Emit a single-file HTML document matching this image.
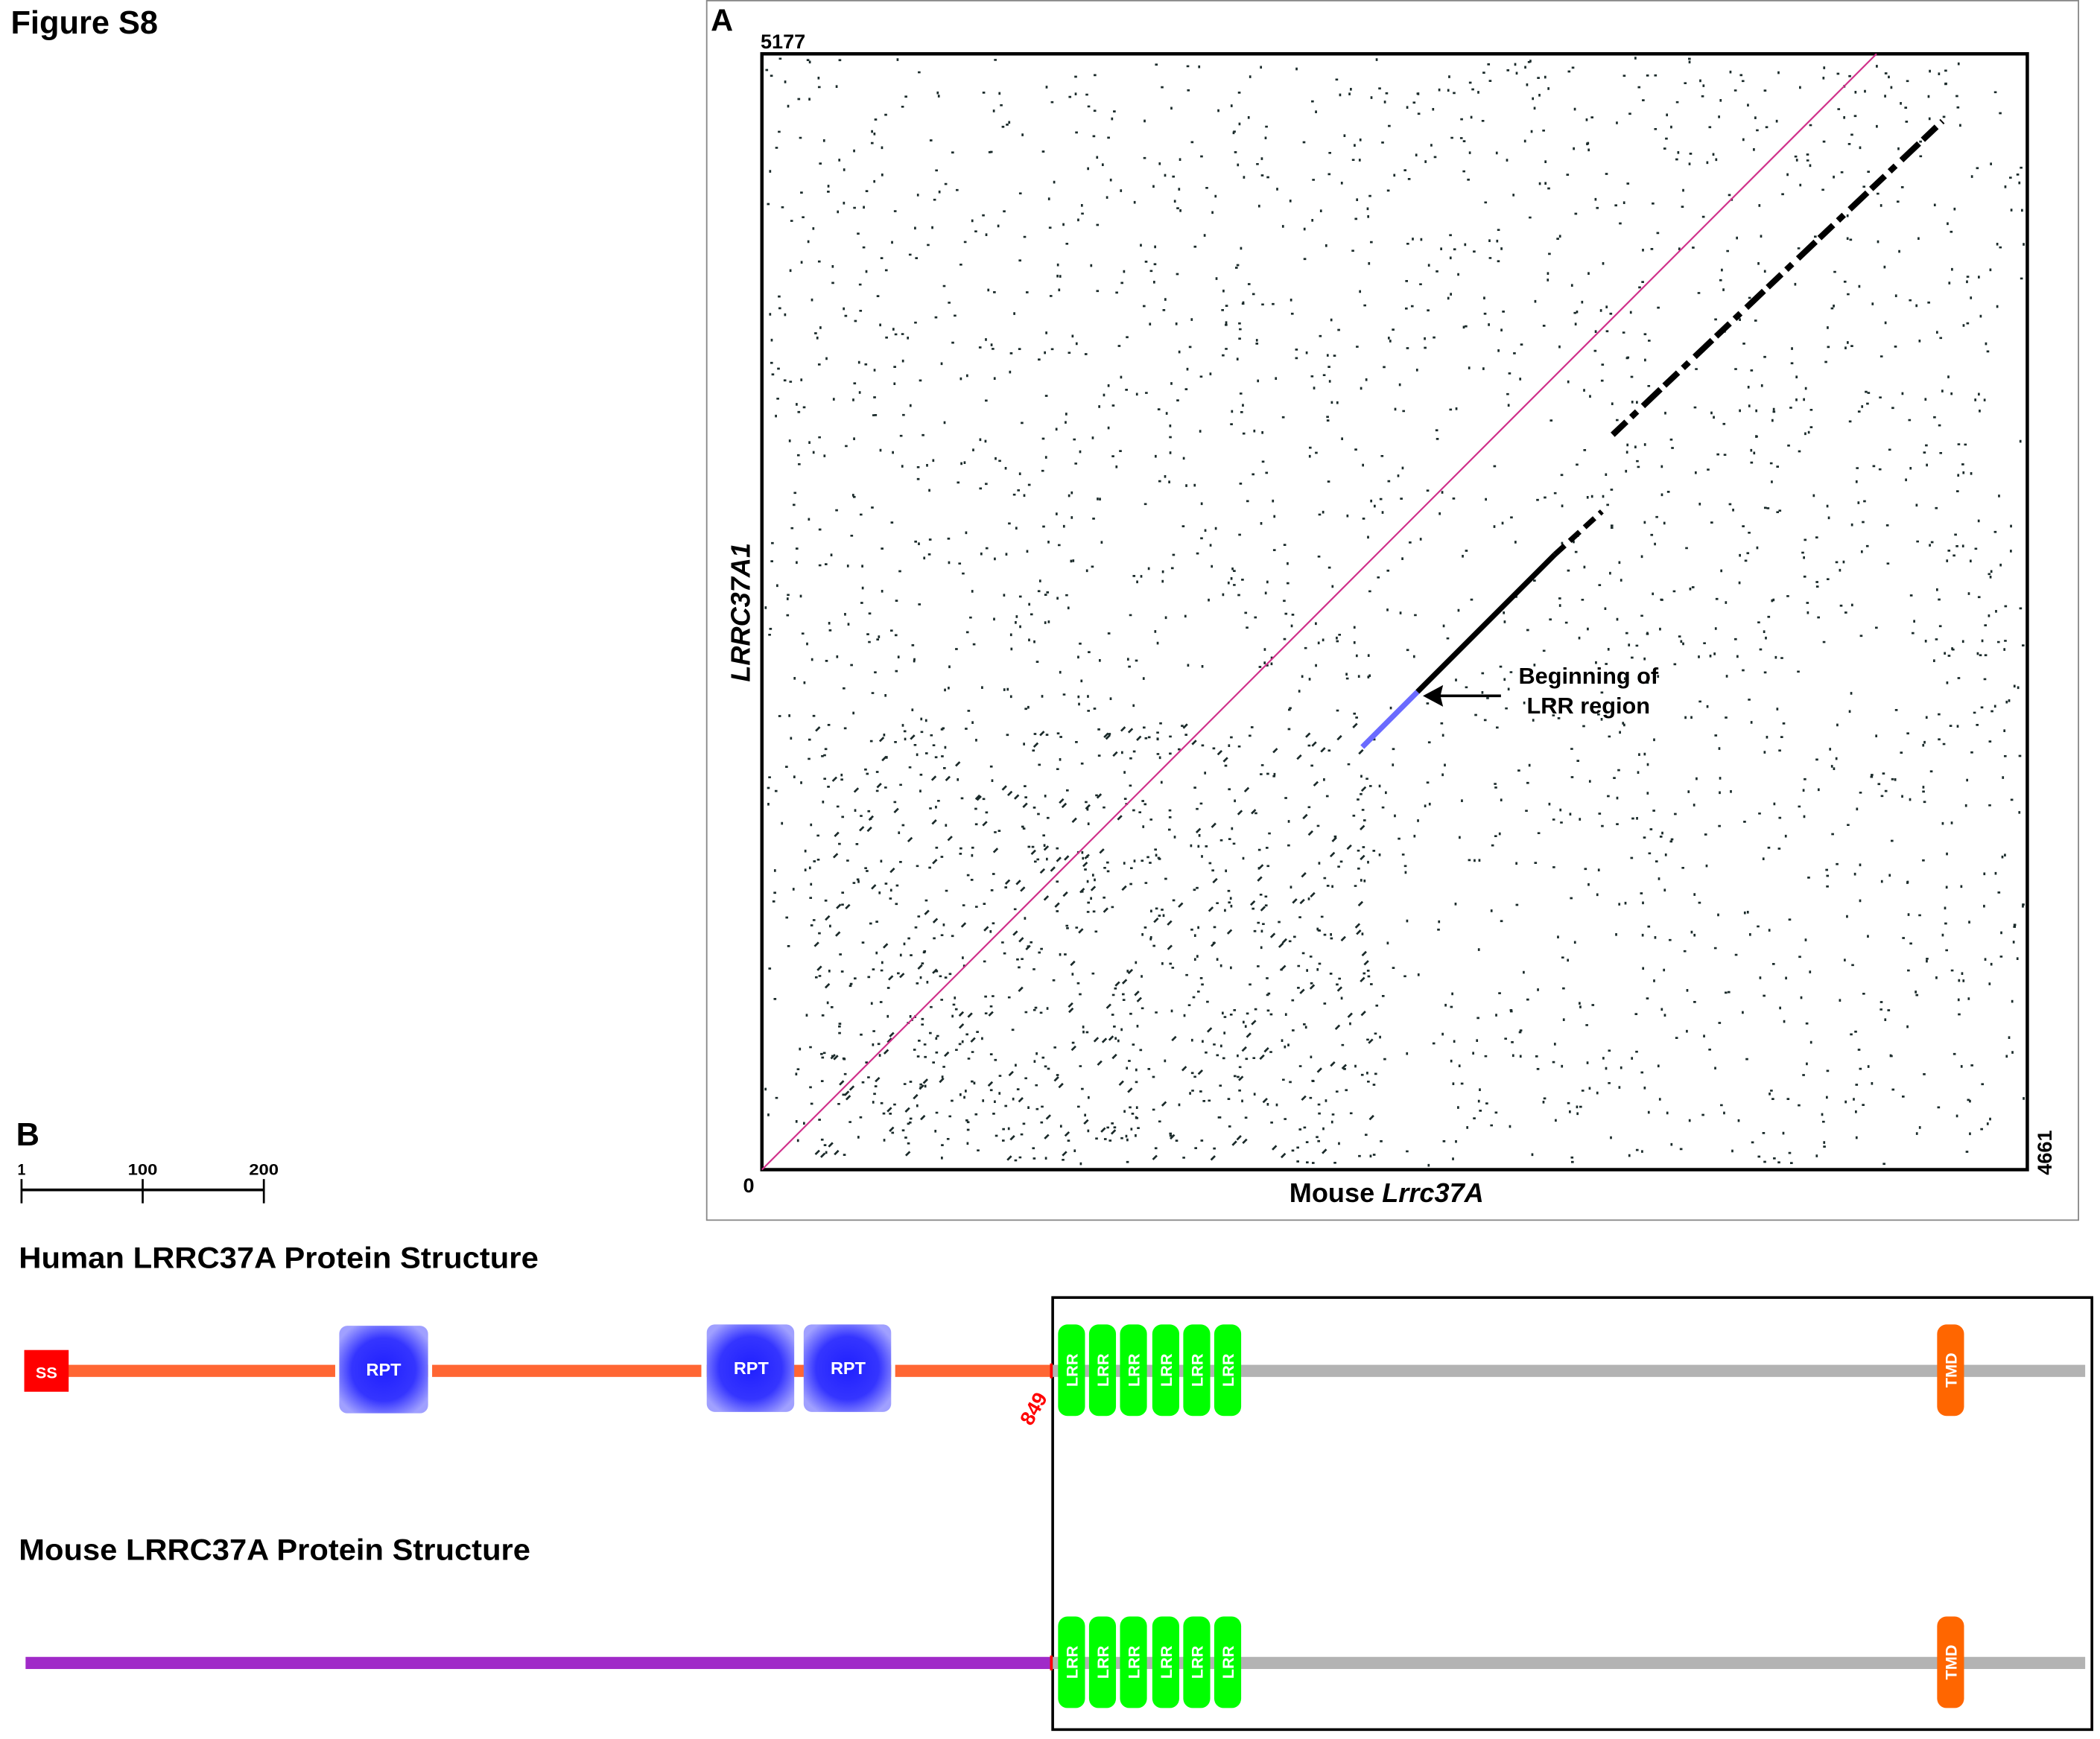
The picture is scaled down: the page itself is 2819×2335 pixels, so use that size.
<!DOCTYPE html>
<html><head><meta charset="utf-8"><style>
html,body{margin:0;padding:0;background:#fff;}
svg{display:block;}
text{font-family:"Liberation Sans",sans-serif;font-weight:bold;}
</style></head><body>
<svg id="s" width="2819" height="2335" viewBox="0 0 1560 1292" preserveAspectRatio="none" xmlns="http://www.w3.org/2000/svg">
<defs>
<radialGradient id="rpt" cx="50%" cy="50%" r="60%">
<stop offset="0" stop-color="#2020ff"/><stop offset="0.6" stop-color="#3535ff"/><stop offset="1" stop-color="#a0a0ff"/>
</radialGradient>
</defs>
<text x="8" y="25" font-size="24">Figure S8</text>
<rect x="525" y="0.5" width="1019" height="906" fill="none" stroke="#888" stroke-width="1"/>
<text x="528" y="23" font-size="23">A</text>
<text x="565" y="36" font-size="15">5177</text>
<g id="dots"></g>
<rect x="566" y="40" width="940" height="829" fill="none" stroke="#000" stroke-width="2.5"/>
<line x1="566" y1="869" x2="1394" y2="40" stroke="#d0308a" stroke-width="1.2"/>
<line x1="1012" y1="555" x2="1053" y2="514" stroke="#6a6aff" stroke-width="4"/>
<line x1="1053" y1="514" x2="1155" y2="412" stroke="#000" stroke-width="4"/>
<line x1="1155" y1="412" x2="1190" y2="380" stroke="#000" stroke-width="4" stroke-dasharray="10,5"/>
<line x1="1198" y1="323" x2="1443" y2="90" stroke="#000" stroke-width="4.5" stroke-dasharray="14,5,6,6,18,4"/>
<line x1="1115" y1="517" x2="1066" y2="517" stroke="#000" stroke-width="2"/>
<polygon points="1057,517 1072,509 1070,517 1072,525" fill="#000"/>
<text x="1180" y="508" font-size="17" text-anchor="middle">Beginning of</text>
<text x="1180" y="530" font-size="17" text-anchor="middle">LRR region</text>
<text x="552" y="886" font-size="15">0</text>
<text transform="translate(1524,873) rotate(-90)" font-size="15">4661</text>
<text x="1030" y="893" font-size="20" text-anchor="middle">Mouse <tspan font-style="italic">Lrrc37A</tspan></text>
<text transform="translate(557,455) rotate(-90)" font-size="20" font-style="italic" text-anchor="middle">LRRC37A1</text>

<text x="12" y="851" font-size="24">B</text>
<text x="13" y="873" font-size="12" textLength="6" lengthAdjust="spacingAndGlyphs">1</text>
<text x="95" y="873" font-size="12" textLength="22" lengthAdjust="spacingAndGlyphs">100</text>
<text x="185" y="873" font-size="12" textLength="22" lengthAdjust="spacingAndGlyphs">200</text>
<line x1="16" y1="884" x2="196" y2="884" stroke="#000" stroke-width="2"/>
<line x1="16" y1="876" x2="16" y2="894" stroke="#000" stroke-width="1.5"/>
<line x1="106" y1="876" x2="106" y2="894" stroke="#000" stroke-width="1.5"/>
<line x1="196" y1="876" x2="196" y2="894" stroke="#000" stroke-width="1.5"/>
<text x="14" y="942" font-size="22" textLength="386" lengthAdjust="spacingAndGlyphs">Human LRRC37A Protein Structure</text>
<text x="14" y="1159" font-size="22" textLength="380" lengthAdjust="spacingAndGlyphs">Mouse LRRC37A Protein Structure</text>

<rect x="782" y="964" width="772" height="321" fill="none" stroke="#000" stroke-width="2"/>
<rect x="50" y="1014" width="732" height="9" fill="#ff6633"/>
<rect x="782" y="1014" width="767" height="9" fill="#b3b3b3"/>
<rect x="19" y="1231" width="763" height="9" fill="#a02ac8"/>
<rect x="782" y="1231" width="767" height="9" fill="#b3b3b3"/>
<rect x="780" y="1013" width="2" height="11" fill="#f00"/>
<rect x="780" y="1230" width="2" height="11" fill="#f00"/>

<rect x="18" y="1003" width="33" height="31" fill="#f00"/>
<text x="34.5" y="1024" font-size="12" fill="#fff" text-anchor="middle">SS</text>
<rect x="249" y="1012" width="4" height="12" fill="#fff"/>
<rect x="318" y="1012" width="3" height="12" fill="#fff"/>
<rect x="521" y="1012" width="4" height="12" fill="#fff"/>
<rect x="662" y="1012" width="3" height="12" fill="#fff"/>
<rect x="252" y="985" width="66" height="65" rx="6" fill="url(#rpt)"/>
<rect x="525" y="984" width="65" height="65" rx="6" fill="url(#rpt)"/>
<rect x="597" y="984" width="65" height="65" rx="6" fill="url(#rpt)"/>
<text x="285" y="1022" font-size="13" fill="#fff" text-anchor="middle">RPT</text>
<text x="558" y="1021" font-size="13" fill="#fff" text-anchor="middle">RPT</text>
<text x="630" y="1021" font-size="13" fill="#fff" text-anchor="middle">RPT</text>
<text transform="translate(766,1060) rotate(-60)" font-size="15" fill="#f00">849</text>

<g id="lrr"></g>
</svg>
<script>
var NS="http://www.w3.org/2000/svg";
function el(t,a,p,txt){var e=document.createElementNS(NS,t);for(var k in a)e.setAttribute(k,a[k]);if(txt)e.textContent=txt;p.appendChild(e);return e;}
var g=document.getElementById("lrr");
[[984,1052],[1201,1269]].forEach(function(r){
 var y0=r[0],h=r[1]-r[0],cy=(r[0]+r[1])/2;
 [786,809,832,856,879,902].forEach(function(x){
  el("rect",{x:x,y:y0,width:20,height:h,rx:7,fill:"#00ff00"},g);
  el("text",{transform:"translate("+(x+14.5)+","+cy+") rotate(-90)","font-size":"12",fill:"#fff","text-anchor":"middle"},g,"LRR");
 });
 el("rect",{x:1439,y:y0,width:20,height:h,rx:7,fill:"#ff6600"},g);
 el("text",{transform:"translate("+1453.5+","+cy+") rotate(-90)","font-size":"12",fill:"#fff","text-anchor":"middle"},g,"TMD");
});
var d=document.getElementById("dots");
var seed=12345;function rnd(){seed=(seed*1103515245+12345)%2147483648;return seed/2147483648;}
var s="";
for(var i=0;i<2400;i++){
 var x=568+rnd()*936,y=42+rnd()*825;
 s+="M"+x.toFixed(1)+" "+y.toFixed(1)+"l"+(rnd()<0.5?"2 0":"0 2");
}
for(var i=0;i<550;i++){
 var x=600+rnd()*420,y=540+rnd()*325;
 if(rnd()<0.45)s+="M"+x.toFixed(1)+" "+y.toFixed(1)+"l"+"3 -3";else s+="M"+x.toFixed(1)+" "+y.toFixed(1)+"l2 0";
}
el("path",{d:s,stroke:"#1a2a2a","stroke-width":"1.5",fill:"none"},d);
</script>
</body></html>
